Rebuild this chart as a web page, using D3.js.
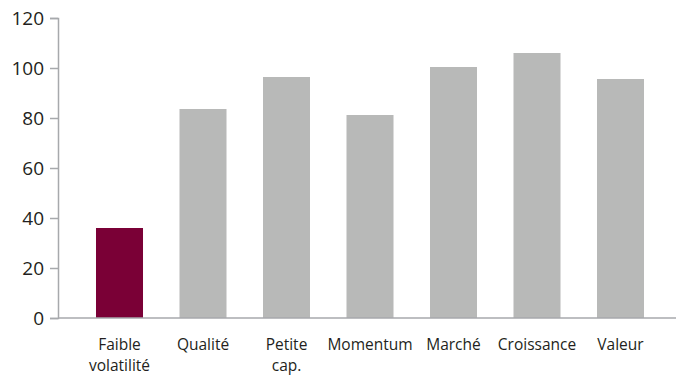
<!DOCTYPE html>
<html>
<head>
<meta charset="utf-8">
<script src="https://cdn.jsdelivr.net/npm/d3@7"></script>
<style>
  body { margin: 0; background: #fff; }
  .chart text { font-family: "Open Sans", sans-serif; fill: #231f20; }
</style>
</head>
<body>
<div class="chart"></div>
<script>
// categories + values
const categories = [["Faible", "volatilité"], ["Qualité"], ["Petite", "cap."], ["Momentum"], ["Marché"], ["Croissance"], ["Valeur"]];
const values = [36, 83.6, 96.4, 81.2, 100.4, 106, 95.6];
const yTicks = [0, 20, 40, 60, 80, 100, 120];
const highlight = 0;

const W = 677, H = 375;
const axisX = 58, y0 = 318, yTop = 18;

const svg = d3.select(".chart").append("svg")
    .attr("width", W)
    .attr("height", H);

const xScale = d3.scaleBand()
    .domain(d3.range(categories.length))
    .range([77.75, 662.25])
    .paddingInner(0.437)
    .paddingOuter(0.2185);

const yScale = d3.scaleLinear()
    .domain([0, 120])
    .range([y0, yTop]);

// bars
svg.selectAll(".bar")
    .data(values)
    .enter()
    .append("rect")
    .attr("class", "bar")
    .attr("x", (d, i) => xScale(i))
    .attr("y", d => yScale(d))
    .attr("width", xScale.bandwidth())
    .attr("height", d => yScale(0) - yScale(d))
    .attr("fill", (d, i) => i === highlight ? "#7a0036" : "#b8b9b8");

// y axis
const yAxis = d3.axisLeft(yScale)
    .tickValues(yTicks)
    .tickSize(8)
    .tickPadding(6);

const gy = svg.append("g")
    .attr("transform", "translate(" + axisX + ",0)")
    .call(yAxis);
gy.select(".domain").attr("stroke", "#a7a9ac").attr("stroke-width", 1.5);
gy.selectAll(".tick line").attr("stroke", "#a7a9ac").attr("stroke-width", 1.5);
gy.selectAll(".tick text").style("font-size", "19px").attr("dy", "0.36em");

// x axis line
svg.append("line")
    .attr("x1", axisX)
    .attr("x2", W - 1)
    .attr("y1", y0)
    .attr("y2", y0)
    .attr("stroke", "#a7a9ac")
    .attr("stroke-width", 1.5);

// category labels
const lbl = svg.selectAll(".cat")
    .data(categories)
    .enter()
    .append("text")
    .attr("class", "cat")
    .attr("text-anchor", "middle")
    .style("font-size", "15.5px");

lbl.selectAll("tspan")
    .data((d, i) => d.map(s => ({s, i})))
    .enter()
    .append("tspan")
    .attr("x", d => xScale(d.i) + xScale.bandwidth() / 2)
    .attr("y", (d, j) => 350 + j * 21)
    .text(d => d.s);
</script>
</body>
</html>
